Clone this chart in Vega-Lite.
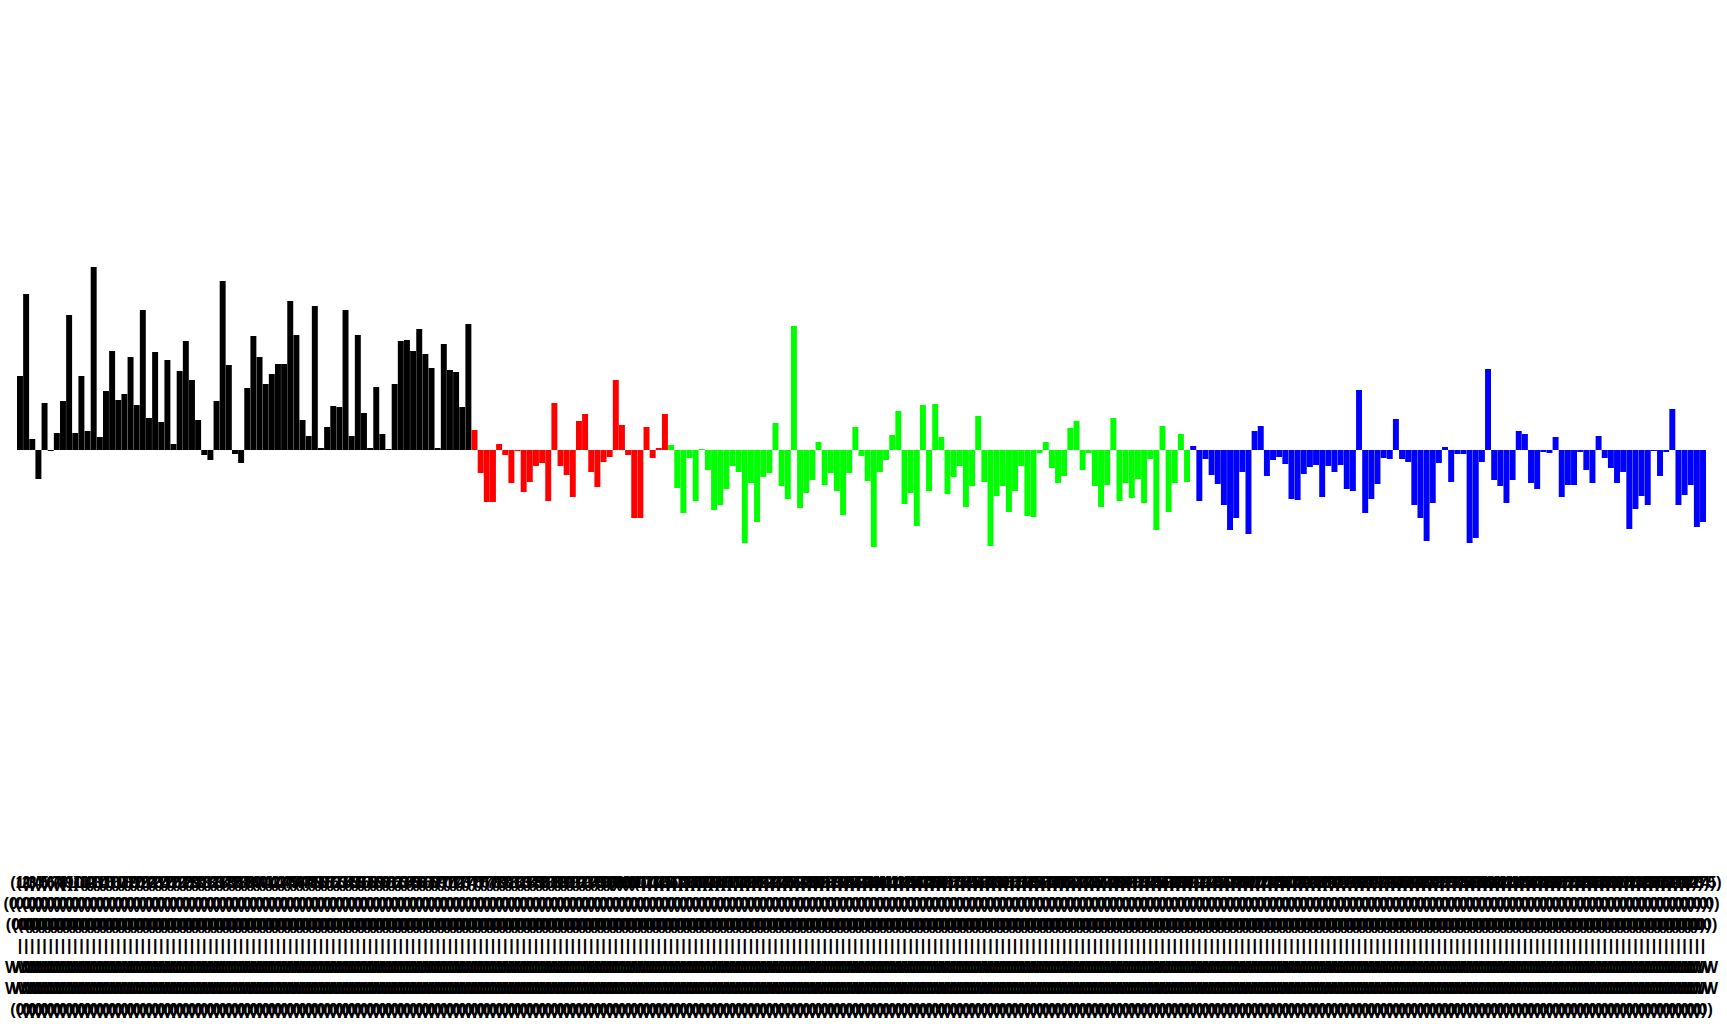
{
  "$schema": "https://vega.github.io/schema/vega-lite/v6.json",
  "autosize": "none",
  "padding": {"left": 17, "top": 0, "right": 21, "bottom": 154},
  "width": 1689,
  "height": 870,
  "background": "#ffffff",
  "config": {"view": {"stroke": null}},
  "data": {"values": [
{"n":"P1","g":"a","v":74},{"n":"P2","g":"a","v":156},{"n":"P3","g":"a","v":11},{"n":"P4","g":"a","v":-29},{"n":"P5","g":"a","v":47},{"n":"P6","g":"a","v":-1},{"n":"P7","g":"a","v":17},{"n":"P8","g":"a","v":49},{"n":"P9","g":"a","v":135},{"n":"P10","g":"a","v":17},
{"n":"P11","g":"a","v":74},{"n":"P12","g":"a","v":19},{"n":"P13","g":"a","v":183},{"n":"P14","g":"a","v":13},{"n":"P15","g":"a","v":59},{"n":"P16","g":"a","v":99},{"n":"P17","g":"a","v":50},{"n":"P18","g":"a","v":56},{"n":"P19","g":"a","v":93},{"n":"P20","g":"a","v":45},
{"n":"P21","g":"a","v":140},{"n":"P22","g":"a","v":32},{"n":"P23","g":"a","v":98},{"n":"P24","g":"a","v":28},{"n":"P25","g":"a","v":90},{"n":"P26","g":"a","v":6},{"n":"P27","g":"a","v":79},{"n":"P28","g":"a","v":109},{"n":"P29","g":"a","v":70},{"n":"P30","g":"a","v":30},
{"n":"P31","g":"a","v":-5},{"n":"P32","g":"a","v":-10},{"n":"P33","g":"a","v":49},{"n":"P34","g":"a","v":169},{"n":"P35","g":"a","v":85},{"n":"P36","g":"a","v":-4},{"n":"P37","g":"a","v":-13},{"n":"P38","g":"a","v":62},{"n":"P39","g":"a","v":114},{"n":"P40","g":"a","v":93},
{"n":"P41","g":"a","v":66},{"n":"P42","g":"a","v":76},{"n":"P43","g":"a","v":86},{"n":"P44","g":"a","v":86},{"n":"P45","g":"a","v":149},{"n":"P46","g":"a","v":115},{"n":"P47","g":"a","v":30},{"n":"P48","g":"a","v":14},{"n":"P49","g":"a","v":144},{"n":"P50","g":"a","v":2},
{"n":"P51","g":"a","v":23},{"n":"P52","g":"a","v":44},{"n":"P53","g":"a","v":43},{"n":"P54","g":"a","v":140},{"n":"P55","g":"a","v":14},{"n":"P56","g":"a","v":115},{"n":"P57","g":"a","v":37},{"n":"P58","g":"a","v":2},{"n":"P59","g":"a","v":63},{"n":"P60","g":"a","v":16},
{"n":"P61","g":"a","v":1},{"n":"P62","g":"a","v":66},{"n":"P63","g":"a","v":109},{"n":"P64","g":"a","v":110},{"n":"P65","g":"a","v":99},{"n":"P66","g":"a","v":121},{"n":"P67","g":"a","v":96},{"n":"P68","g":"a","v":82},{"n":"P69","g":"a","v":2},{"n":"P70","g":"a","v":106},
{"n":"P71","g":"a","v":80},{"n":"P72","g":"a","v":78},{"n":"P73","g":"a","v":43},{"n":"P74","g":"a","v":126},
{"n":"P75","g":"b","v":20},{"n":"P76","g":"b","v":-23},{"n":"P77","g":"b","v":-52},{"n":"P78","g":"b","v":-52},{"n":"P79","g":"b","v":6},{"n":"P80","g":"b","v":-5},{"n":"P81","g":"b","v":-33},{"n":"P82","g":"b","v":-1},{"n":"P83","g":"b","v":-42},{"n":"P84","g":"b","v":-32},
{"n":"P85","g":"b","v":-16},{"n":"P86","g":"b","v":-13},{"n":"P87","g":"b","v":-51},{"n":"P88","g":"b","v":47},{"n":"P89","g":"b","v":-16},{"n":"P90","g":"b","v":-25},{"n":"P91","g":"b","v":-47},{"n":"P92","g":"b","v":29},{"n":"P93","g":"b","v":36},{"n":"P94","g":"b","v":-22},
{"n":"P95","g":"b","v":-37},{"n":"P96","g":"b","v":-12},{"n":"P97","g":"b","v":-7},{"n":"P98","g":"b","v":70},{"n":"P99","g":"b","v":25},{"n":"P100","g":"b","v":-5},{"n":"P101","g":"b","v":-68},{"n":"P102","g":"b","v":-68},{"n":"P103","g":"b","v":23},{"n":"P104","g":"b","v":-8},
{"n":"P105","g":"b","v":2},{"n":"P106","g":"b","v":36},
{"n":"P107","g":"c","v":5},{"n":"P108","g":"c","v":-38},{"n":"P109","g":"c","v":-63},{"n":"P110","g":"c","v":-8},{"n":"P111","g":"c","v":-51},{"n":"P112","g":"c","v":1},{"n":"P113","g":"c","v":-20},{"n":"P114","g":"c","v":-60},{"n":"P115","g":"c","v":-55},{"n":"P116","g":"c","v":-39},
{"n":"P117","g":"c","v":-16},{"n":"P118","g":"c","v":-22},{"n":"P119","g":"c","v":-93},{"n":"P120","g":"c","v":-33},{"n":"P121","g":"c","v":-72},{"n":"P122","g":"c","v":-27},{"n":"P123","g":"c","v":-23},{"n":"P124","g":"c","v":27},{"n":"P125","g":"c","v":-36},{"n":"P126","g":"c","v":-49},
{"n":"P127","g":"c","v":124},{"n":"P128","g":"c","v":-58},{"n":"P129","g":"c","v":-43},{"n":"P130","g":"c","v":-30},{"n":"P131","g":"c","v":8},{"n":"P132","g":"c","v":-35},{"n":"P133","g":"c","v":-23},{"n":"P134","g":"c","v":-41},{"n":"P135","g":"c","v":-65},{"n":"P136","g":"c","v":-23},
{"n":"P137","g":"c","v":23},{"n":"P138","g":"c","v":-6},{"n":"P139","g":"c","v":-31},{"n":"P140","g":"c","v":-97},{"n":"P141","g":"c","v":-22},{"n":"P142","g":"c","v":-10},{"n":"P143","g":"c","v":15},{"n":"P144","g":"c","v":39},{"n":"P145","g":"c","v":-54},{"n":"P146","g":"c","v":-43},
{"n":"P147","g":"c","v":-76},{"n":"P148","g":"c","v":45},{"n":"P149","g":"c","v":-41},{"n":"P150","g":"c","v":46},{"n":"P151","g":"c","v":13},{"n":"P152","g":"c","v":-44},{"n":"P153","g":"c","v":-27},{"n":"P154","g":"c","v":-16},{"n":"P155","g":"c","v":-57},{"n":"P156","g":"c","v":-36},
{"n":"P157","g":"c","v":34},{"n":"P158","g":"c","v":-32},{"n":"P159","g":"c","v":-96},{"n":"P160","g":"c","v":-46},{"n":"P161","g":"c","v":-36},{"n":"P162","g":"c","v":-62},{"n":"P163","g":"c","v":-41},{"n":"P164","g":"c","v":-16},{"n":"P165","g":"c","v":-66},{"n":"P166","g":"c","v":-67},
{"n":"P167","g":"c","v":-3},{"n":"P168","g":"c","v":8},{"n":"P169","g":"c","v":-18},{"n":"P170","g":"c","v":-33},{"n":"P171","g":"c","v":-26},{"n":"P172","g":"c","v":22},{"n":"P173","g":"c","v":29},{"n":"P174","g":"c","v":-20},{"n":"P175","g":"c","v":-3},{"n":"P176","g":"c","v":-36},
{"n":"P177","g":"c","v":-57},{"n":"P178","g":"c","v":-35},{"n":"P179","g":"c","v":32},{"n":"P180","g":"c","v":-51},{"n":"P181","g":"c","v":-33},{"n":"P182","g":"c","v":-48},{"n":"P183","g":"c","v":-29},{"n":"P184","g":"c","v":-53},{"n":"P185","g":"c","v":-9},{"n":"P186","g":"c","v":-80},
{"n":"P187","g":"c","v":24},{"n":"P188","g":"c","v":-62},{"n":"P189","g":"c","v":-33},{"n":"P190","g":"c","v":16},{"n":"P191","g":"c","v":-32},
{"n":"P192","g":"d","v":4},{"n":"P193","g":"d","v":-51},{"n":"P194","g":"d","v":-9},{"n":"P195","g":"d","v":-25},{"n":"P196","g":"d","v":-34},{"n":"P197","g":"d","v":-55},{"n":"P198","g":"d","v":-80},{"n":"P199","g":"d","v":-68},{"n":"P200","g":"d","v":-22},{"n":"P201","g":"d","v":-84},
{"n":"P202","g":"d","v":19},{"n":"P203","g":"d","v":24},{"n":"P204","g":"d","v":-26},{"n":"P205","g":"d","v":-10},{"n":"P206","g":"d","v":-7},{"n":"P207","g":"d","v":-14},{"n":"P208","g":"d","v":-49},{"n":"P209","g":"d","v":-50},{"n":"P210","g":"d","v":-24},{"n":"P211","g":"d","v":-17},
{"n":"P212","g":"d","v":-15},{"n":"P213","g":"d","v":-47},{"n":"P214","g":"d","v":-16},{"n":"P215","g":"d","v":-22},{"n":"P216","g":"d","v":-15},{"n":"P217","g":"d","v":-39},{"n":"P218","g":"d","v":-41},{"n":"P219","g":"d","v":60},{"n":"P220","g":"d","v":-63},{"n":"P221","g":"d","v":-49},
{"n":"P222","g":"d","v":-34},{"n":"P223","g":"d","v":-8},{"n":"P224","g":"d","v":-9},{"n":"P225","g":"d","v":31},{"n":"P226","g":"d","v":-9},{"n":"P227","g":"d","v":-12},{"n":"P228","g":"d","v":-55},{"n":"P229","g":"d","v":-68},{"n":"P230","g":"d","v":-91},{"n":"P231","g":"d","v":-53},
{"n":"P232","g":"d","v":-13},{"n":"P233","g":"d","v":3},{"n":"P234","g":"d","v":-32},{"n":"P235","g":"d","v":-4},{"n":"P236","g":"d","v":-4},{"n":"P237","g":"d","v":-93},{"n":"P238","g":"d","v":-88},{"n":"P239","g":"d","v":-12},{"n":"P240","g":"d","v":81},{"n":"P241","g":"d","v":-30},
{"n":"P242","g":"d","v":-36},{"n":"P243","g":"d","v":-53},{"n":"P244","g":"d","v":-30},{"n":"P245","g":"d","v":19},{"n":"P246","g":"d","v":16},{"n":"P247","g":"d","v":-33},{"n":"P248","g":"d","v":-39},{"n":"P249","g":"d","v":-2},{"n":"P250","g":"d","v":-3},{"n":"P251","g":"d","v":13},
{"n":"P252","g":"d","v":-47},{"n":"P253","g":"d","v":-35},{"n":"P254","g":"d","v":-35},{"n":"P255","g":"d","v":-2},{"n":"P256","g":"d","v":-20},{"n":"P257","g":"d","v":-33},{"n":"P258","g":"d","v":14},{"n":"P259","g":"d","v":-8},{"n":"P260","g":"d","v":-18},{"n":"P261","g":"d","v":-33},
{"n":"P262","g":"d","v":-22},{"n":"P263","g":"d","v":-79},{"n":"P264","g":"d","v":-59},{"n":"P265","g":"d","v":-46},{"n":"P266","g":"d","v":-55},{"n":"P267","g":"d","v":-1},{"n":"P268","g":"d","v":-26},{"n":"P269","g":"d","v":-2},{"n":"P270","g":"d","v":41},{"n":"P271","g":"d","v":-55},
{"n":"P272","g":"d","v":-45},{"n":"P273","g":"d","v":-35},{"n":"P274","g":"d","v":-77},{"n":"P275","g":"d","v":-72}
  ]},
  "mark": {"type": "bar"},
  "encoding": {
    "x": {
      "field": "n", "type": "nominal", "sort": null,
      "scale": {"paddingInner": 0.03, "paddingOuter": 0},
      "axis": {
        "title": null, "domain": false, "ticks": false, "labelAngle": 0,
        "labelOverlap": false, "labelBound": false, "labelFlush": false, "labelLimit": 0,
        "labelFont": "Liberation Sans", "labelFontSize": 16, "labelFontWeight": "bold",
        "labelColor": "#000000", "labelPadding": 4, "labelLineHeight": 21.3,
        "labelExpr": "['(' + replace(datum.value, 'P', '') + ')', '(0.0)', '(00)', '\u2002\u2002\u2002\u2002|', 'WW', 'WW', '(0)']"
      }
    },
    "y": {
      "field": "v", "type": "quantitative",
      "scale": {"domain": [-420, 450], "nice": false, "zero": true},
      "axis": null
    },
    "color": {
      "field": "g", "type": "nominal",
      "scale": {"domain": ["a", "b", "c", "d"], "range": ["#000000", "#ff0000", "#00ff00", "#0000ff"]},
      "legend": null
    }
  }
}
